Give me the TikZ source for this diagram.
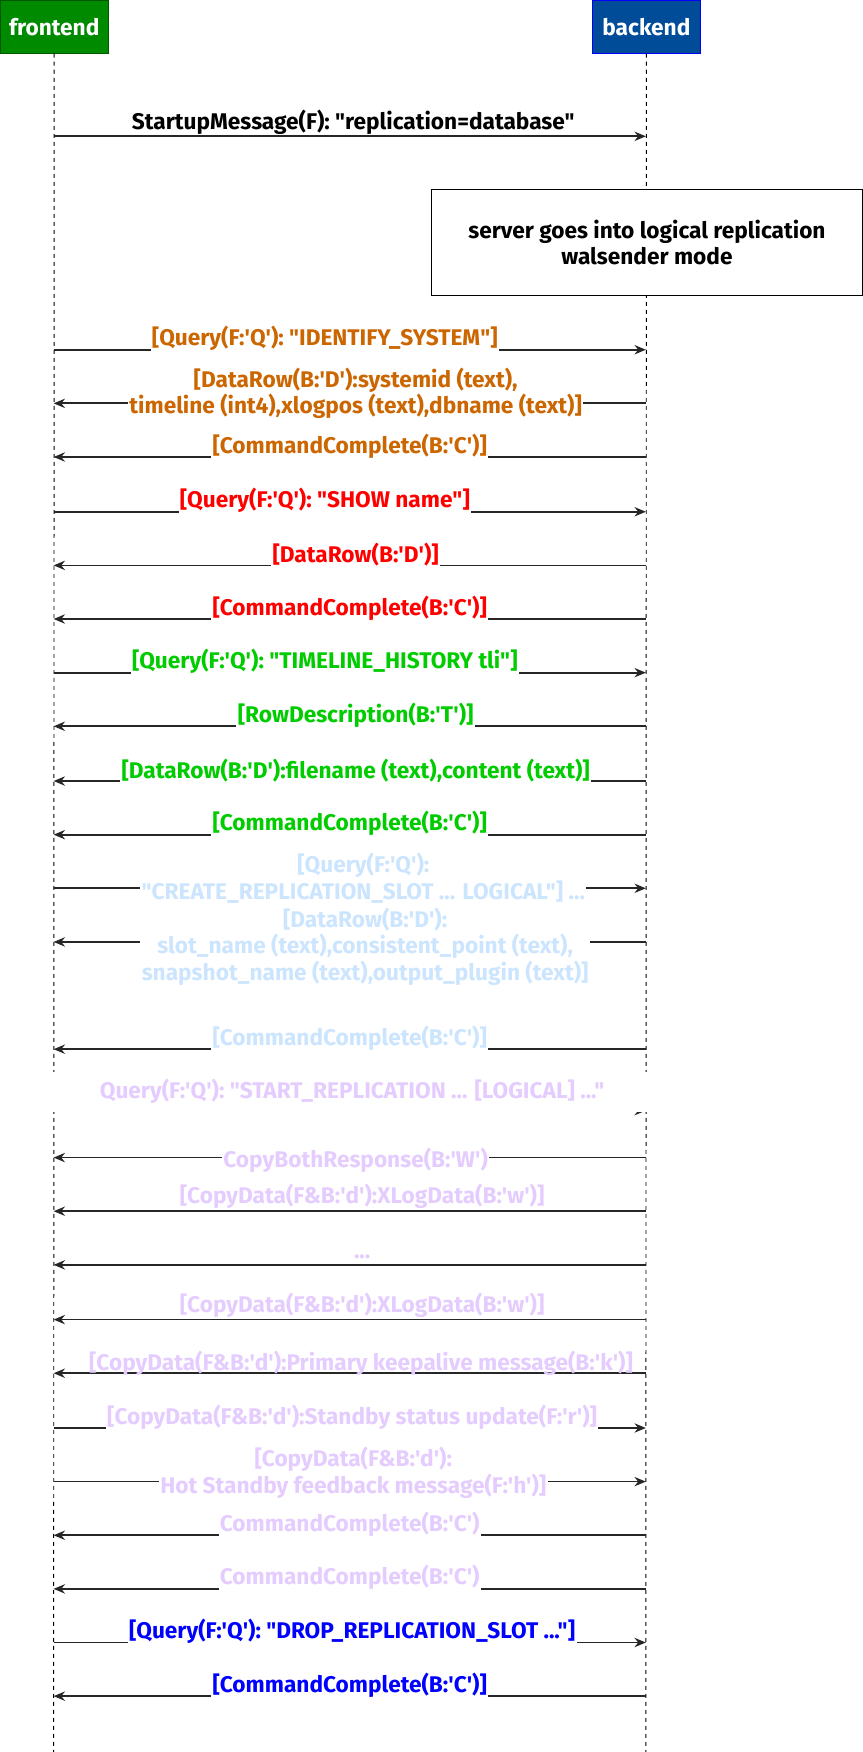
\documentclass[tikz,border=0pt]{standalone}
\usepackage{fontspec}
\usetikzlibrary{arrows.meta,positioning}
\newfontfamily\msgfamily{Fira Sans}
\newcommand\msgfont{\msgfamily\bfseries\fontsize{17}{20}\selectfont}
\definecolor{idorange}{HTML}{CC6600}
\definecolor{showred}{HTML}{FF0000}
\definecolor{tlgreen}{HTML}{00CC00}
\definecolor{slotblue}{HTML}{CCE5FF}
\definecolor{walpurple}{HTML}{E5CCFF}
\definecolor{dropblue}{HTML}{0000FF}
\definecolor{fegreen}{HTML}{008A00}
\definecolor{fedark}{HTML}{005700}
\definecolor{befill}{HTML}{004C99}
\tikzset{%
	actor/.style    = {draw, rectangle, minimum width = 81pt, minimum height = 40pt, text=white, font=\msgfont}, % Lifeline head
	lifeline/.style = {dashed, line width=0.7pt},
	msg/.style      = {-{Stealth[length=8.5pt,width=7pt]}, line width=1.3pt, draw=black!85}, % Message
	lbl/.style      = {fill=white, inner sep=1pt, anchor=south, yshift=-2.5pt, font=\msgfont}, % Label over the line
	lblml/.style    = {fill=white, inner sep=1pt, anchor=center, align=center, font=\msgfont},
	lblup/.style    = {above, inner sep=1pt, font=\msgfont}, % Label above the line
	note/.style     = {draw, fill=white, rectangle, line width=0.8pt, minimum width = 323pt, minimum height = 80pt, align=center, font=\msgfont},
}
\begin{document}
\begin{tikzpicture}[x=0.838pt, y=-0.838pt]
	\useasboundingbox (0,0) rectangle (772,1568);
	\node[actor, fill=fegreen, draw=fedark] (frontend) at (48.5,24) {frontend};
	\node[actor, fill=befill, draw=dropblue] (backend) at (578.5,24) {backend};
	\coordinate (feend) at (48,1568);
	\coordinate (beend) at (578,1568);
	\draw[lifeline] (frontend.south) -- (feend);
	\draw[lifeline] (backend.south) -- (beend);
	\foreach \n/\y in {1/122,2/313,3/361,4/409,5/458,6/506,7/554,8/602,9/650,10/699,11/747,12/795,13/843,
		14/939,15/994,16/1036,17/1084,18/1132,19/1181,20/1229,21/1278,22/1326,23/1374,24/1422,25/1470,26/1518} {
		\coordinate (fl\n) at (48,\y);
		\coordinate (bl\n) at (578,\y);
	}
	\draw[msg] (fl1) -- node[lblup, pos=0.506] (startup) {StartupMessage(F): "replication=database"} (bl1);
	\node[note] (walnote) at (579,217) {server goes into logical replication\\walsender mode};
	
	\draw[msg] (fl2) -- node[lbl, pos=0.458, text=idorange] (idsys) {[Query(F:'Q'): "IDENTIFY\_SYSTEM"]} (bl2);
	\draw[msg] (bl3) -- node[lblml, pos=0.49, yshift=7.5pt, text=idorange] (idrow) {[DataRow(B:'D'):systemid (text),\\timeline (int4),xlogpos (text),dbname (text)]} (fl3);
	\draw[msg] (bl4) -- node[lbl, pos=0.5, text=idorange] (idcc) {[CommandComplete(B:'C')]} (fl4);
	
	\draw[msg] (fl5) -- node[lbl, pos=0.458, text=showred] (showq) {[Query(F:'Q'): "SHOW name"]} (bl5);
	\draw[msg] (bl6) -- node[lbl, pos=0.49, text=showred] (showrow) {[DataRow(B:'D')]} (fl6);
	\draw[msg] (bl7) -- node[lbl, pos=0.5, text=showred] (showcc) {[CommandComplete(B:'C')]} (fl7);
	
	\draw[msg] (fl8) -- node[lbl, pos=0.458, text=tlgreen] (tlq) {[Query(F:'Q'): "TIMELINE\_HISTORY tli"]} (bl8);
	\draw[msg] (bl9) -- node[lbl, pos=0.49, text=tlgreen] (tldesc) {[RowDescription(B:'T')]} (fl9);
	\draw[msg] (bl10) -- node[lbl, pos=0.49, text=tlgreen] (tlrow) {[DataRow(B:'D'):filename (text),content (text)]} (fl10);
	\draw[msg] (bl11) -- node[lbl, pos=0.5, text=tlgreen] (tlcc) {[CommandComplete(B:'C')]} (fl11);
	
	\draw[msg] (fl12) -- node[lblml, pos=0.523, yshift=7.5pt, text=slotblue] (slotq) {[Query(F:'Q'):\\"CREATE\_REPLICATION\_SLOT ... LOGICAL"] ...} (bl12);
	\draw[msg] (bl13) -- node[lblml, pos=0.474, yshift=-3.4pt, text=slotblue] (slotrow) {[DataRow(B:'D'):\\slot\_name (text),consistent\_point (text),\\snapshot\_name (text),output\_plugin (text)]} (fl13);
	\draw[msg] (bl14) -- node[lbl, pos=0.5, text=slotblue] (slotcc) {[CommandComplete(B:'C')]} (fl14);
	
	\draw[msg] (fl15) -- node[lblml, pos=0.504, yshift=14.2pt, minimum height=30pt, minimum width=461pt, text=walpurple] (startq) {Query(F:'Q'): "START\_REPLICATION ... [LOGICAL] ..."} (bl15);
	\draw[msg] (bl16) -- node[lblml, pos=0.49, yshift=-2pt, text=walpurple] (copyboth) {CopyBothResponse(B:'W')} (fl16);
	\draw[msg] (bl17) -- node[lblup, pos=0.479, text=walpurple] (xlogfirst) {[CopyData(F\&B:'d'):XLogData(B:'w')]} (fl17);
	\draw[msg] (bl18) -- node[lblup, pos=0.479, yshift=3pt, text=walpurple] (moredata) {...} (fl18);
	\draw[msg] (bl19) -- node[lblup, pos=0.479, text=walpurple] (xlogsecond) {[CopyData(F\&B:'d'):XLogData(B:'w')]} (fl19);
	\draw[msg] (bl20) -- node[lblup, pos=0.481, yshift=-3pt, text=walpurple] (keepalive) {[CopyData(F\&B:'d'):Primary keepalive message(B:'k')]} (fl20);
	\draw[msg] (fl21) -- node[lbl, pos=0.504, text=walpurple] (standby) {[CopyData(F\&B:'d'):Standby status update(F:'r')]} (bl21);
	\draw[msg] (fl22) -- node[lblml, pos=0.506, yshift=6.7pt, text=walpurple] (hotstandby) {[CopyData(F\&B:'d'):\\Hot Standby feedback message(F:'h')]} (bl22);
	\draw[msg] (bl23) -- node[lbl, pos=0.5, text=walpurple] (startccone) {CommandComplete(B:'C')} (fl23);
	\draw[msg] (bl24) -- node[lbl, pos=0.5, text=walpurple] (startcctwo) {CommandComplete(B:'C')} (fl24);
	
	\draw[msg] (fl25) -- node[lbl, pos=0.504, text=dropblue] (dropq) {[Query(F:'Q'): "DROP\_REPLICATION\_SLOT ..."]} (bl25);
	\draw[msg] (bl26) -- node[lbl, pos=0.5, text=dropblue] (dropcc) {[CommandComplete(B:'C')]} (fl26);
\end{tikzpicture}
\end{document}
